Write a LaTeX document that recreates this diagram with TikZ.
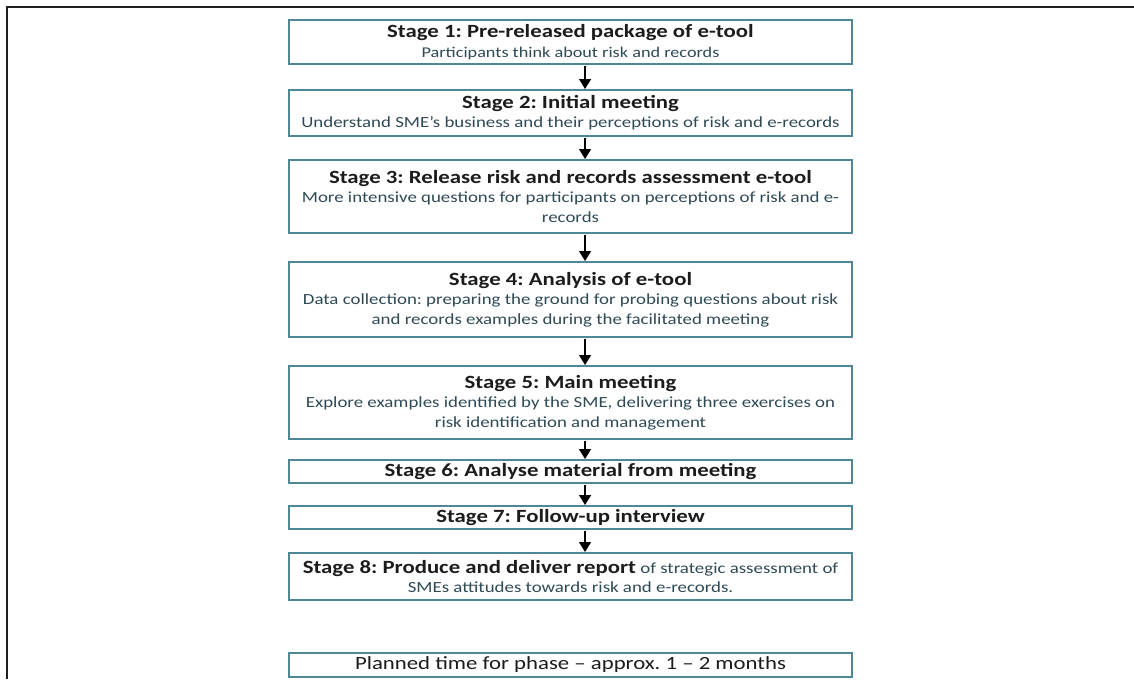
\documentclass[tikz,border=0pt]{standalone}
\usepackage{fontspec}
\setmainfont[FakeStretch=1.22]{Carlito}
\usetikzlibrary{arrows.meta}
\definecolor{framecol}{HTML}{231F20}
\definecolor{boxcol}{HTML}{4F8797}
\definecolor{titlecol}{HTML}{1C1C1C}
\definecolor{bodycol}{HTML}{2E4A55}
\frenchspacing
\newcommand{\ttl}{\fontsize{14}{14.6}\selectfont\bfseries\color{titlecol}}
\newcommand{\bdy}{\fontsize{11.6}{14.6}\selectfont\color{bodycol}}
\newcommand{\bdysmall}{\fontsize{11.2}{14.6}\selectfont\color{bodycol}}
\tikzset{
  stagebox/.style={draw=boxcol, line width=1.4pt, minimum width=422.25pt,
    align=center, inner sep=0pt, anchor=north,
    font=\fontsize{11.6}{14.6}\selectfont},
  flow/.style={-{Triangle[width=9pt,length=7.5pt]}, line width=0.9pt, draw=black, shorten <=0.6pt}
}
\begin{document}
\begin{tikzpicture}[x=0.75pt,y=-0.75pt]
\useasboundingbox (0,0) rectangle (1134,679);
% outer frame (left and top edges)
\draw[framecol, line width=1.6pt] (7,679) -- (7,7) -- (277,7);
\draw[framecol, line width=0.8pt] (277,7) -- (872,7);
\draw[framecol, line width=1.6pt] (872,7) -- (1134,7);

% stage boxes (heights in px times 0.75)
\node[stagebox, minimum height=33pt] (s1) at (570.5,19)
  {{\ttl Stage 1: Pre-released package of e-tool}\\{\bdysmall Participants think about risk and records}};
\node[stagebox, minimum height=34.5pt] (s2) at (570.5,89)
  {{\ttl Stage 2: Initial meeting}\\{\bdy Understand SME’s business and their perceptions of risk and e-records}};
\node[stagebox, minimum height=54.75pt] (s3) at (570.5,159)
  {{\ttl Stage 3: Release risk and records assessment e-tool}\\{\bdy More intensive questions for participants on perceptions of risk and e-}\\{\bdy records}};
\node[stagebox, minimum height=56.25pt] (s4) at (570.5,261)
  {{\ttl Stage 4: Analysis of e-tool}\\{\bdy Data collection: preparing the ground for probing questions about risk}\\{\bdy and records examples during the facilitated meeting}};
\node[stagebox, minimum height=54.75pt] (s5) at (570.5,365)
  {{\ttl Stage 5: Main meeting}\\{\bdy Explore examples identified by the SME, delivering three exercises on}\\{\bdy risk identification and management}};
\node[stagebox, minimum height=17.25pt] (s6) at (570.5,459)
  {{\ttl Stage 6: Analyse material from meeting}};
\node[stagebox, minimum height=17.25pt] (s7) at (570.5,505)
  {{\ttl Stage 7: Follow-up interview}};
\node[stagebox, minimum height=35.25pt] (s8) at (570.5,552)
  {{\ttl Stage 8: Produce and deliver report} {\bdy of strategic assessment of}\\{\bdy SMEs attitudes towards risk and e-records.}};
\node[stagebox, minimum height=18pt] (plan) at (570.5,652)
  {{\fontsize{14}{14.6}\selectfont\color{titlecol}Planned time for phase – approx. 1 – 2 months}};

% connectors
\foreach \a/\b in {s1/s2, s2/s3, s3/s4, s4/s5, s5/s6, s6/s7, s7/s8}
  \draw[flow] ([xshift=10.9pt]\a.south) -- ([xshift=10.9pt]\b.north);
\end{tikzpicture}
\end{document}
